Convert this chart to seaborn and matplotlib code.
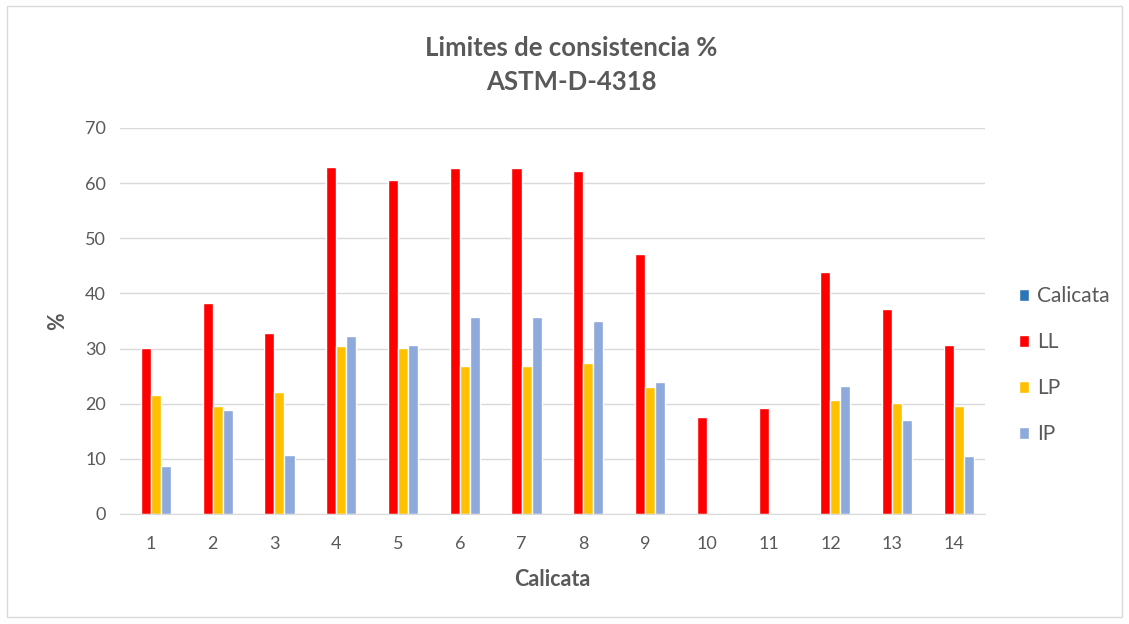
import numpy as np
import pandas as pd
import seaborn as sns
import matplotlib.pyplot as plt
from matplotlib.patches import Rectangle

# datos
calicatas = [str(i) for i in range(1, 15)]
calicata_vals = [0] * 14
LL = [30.1, 38.3, 32.8, 63.0, 60.6, 62.7, 62.7, 62.2, 47.2, 17.6, 19.3, 43.8, 37.1, 30.6]
LP = [21.6, 19.5, 22.2, 30.5, 30.1, 26.9, 26.9, 27.4, 23.0, 0, 0, 20.6, 20.1, 19.5]
IP = [8.7, 18.9, 10.7, 32.2, 30.7, 35.8, 35.8, 35.0, 23.9, 0, 0, 23.2, 17.0, 10.6]

series = ['Calicata', 'LL', 'LP', 'IP']
colores = ['#2E75B6', '#FF0000', '#FFC000', '#8EA9DB']

data = pd.DataFrame({
    'Calicata': calicatas * 4,
    'serie': np.repeat(series, 14),
    'valor': calicata_vals + LL + LP + IP,
})

sns.set_style('white')
plt.rcParams['font.family'] = ['Lato', 'DejaVu Sans']

fig = plt.figure(figsize=(11.29, 6.24), dpi=100)
ax = fig.add_axes([0.1063, 0.1763, 0.766, 0.6186])

sns.barplot(data=data, x='Calicata', y='valor', hue='serie', order=calicatas,
            hue_order=series, palette=colores, width=0.65, saturation=1, ax=ax)

ax.set_ylim(0, 70)
ax.set_yticks(range(0, 71, 10))
ax.yaxis.grid(True, color='#D9D9D9', linewidth=1)
ax.set_axisbelow(True)
for s in ['top', 'right', 'left']:
    ax.spines[s].set_visible(False)
ax.spines['bottom'].set_color('#D9D9D9')
ax.tick_params(axis='y', length=0, labelsize=13, colors='#595959', pad=10)
ax.tick_params(axis='x', length=0, labelsize=13, colors='#595959', pad=16)

ax.set_xlabel('Calicata', fontsize=15.5, fontweight='bold', color='#595959', labelpad=12)
ax.set_ylabel('%', fontsize=15.5, fontweight='bold', color='#595959', labelpad=12)

fig.text(0.506, 0.923, 'Limites de consistencia %', ha='center', va='center',
         fontsize=18.5, fontweight='bold', color='#595959')
fig.text(0.506, 0.868, 'ASTM-D-4318', ha='center', va='center',
         fontsize=18.5, fontweight='bold', color='#595959')

handles, labels = ax.get_legend_handles_labels()
ax.legend(handles, labels, loc='center left', bbox_to_anchor=(0.886, 0.415),
          bbox_transform=fig.transFigure, frameon=False, fontsize=15,
          labelcolor='#595959', handlelength=0.5, handleheight=0.5,
          handletextpad=0.35, labelspacing=1.25)

# borde del area del grafico
fig.patches.append(Rectangle((0.006, 0.012), 0.988, 0.978, transform=fig.transFigure,
                             fill=False, edgecolor='#D9D9D9', linewidth=1))

fig.savefig('out.png', dpi=100)
